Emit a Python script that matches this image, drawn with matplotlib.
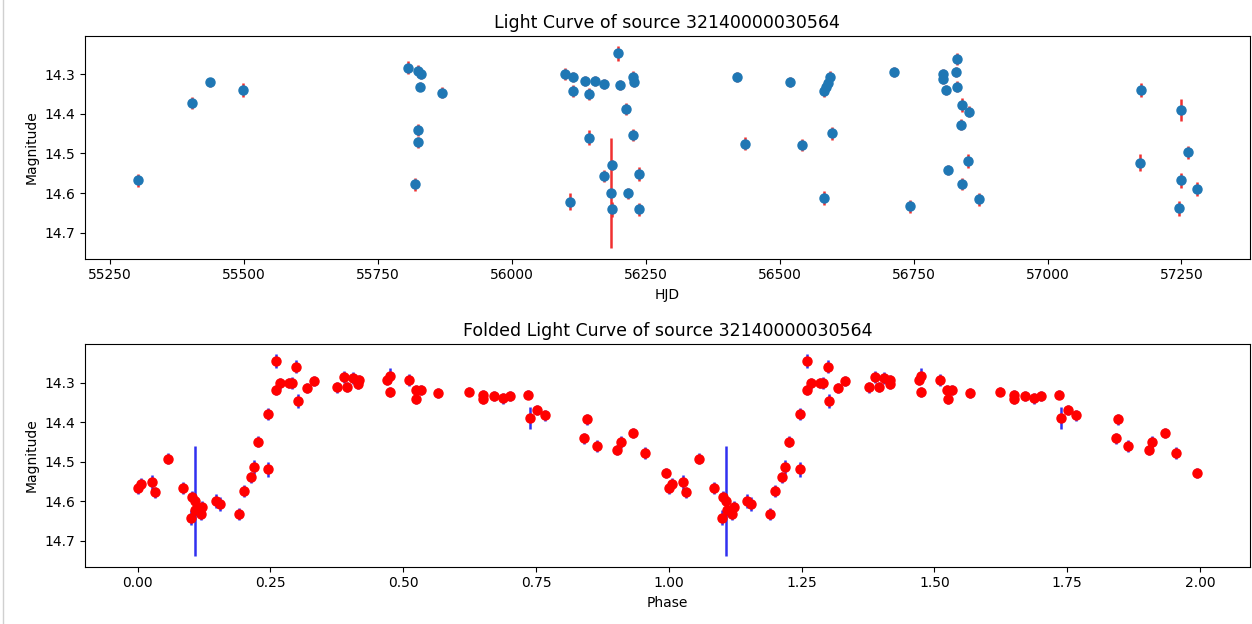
import numpy as np
import matplotlib
matplotlib.use("Agg")
import matplotlib.pyplot as plt
from matplotlib.lines import Line2D

SOURCE_ID = "32140000030564"

# --- raw light curve (HJD, magnitude, error) ---
hjd = [55301.5, 55403.1, 55435.4, 55497.6, 55805.8, 55824.4, 55830.8, 55827.6,
       55869.2, 55824.4, 55824.4, 55819.6, 56099.7, 56113.9, 56113.9, 56135.7,
       56154.4, 56171.8, 56143.8, 56197.4, 56201.1, 56213.6, 56225.9, 56228.5,
       56143.2, 56225.9, 56187.5, 56171.2, 56236.5, 56184.3, 56216.6, 56107.7,
       56187.5, 56236.5, 56420.9, 56434.5, 56519.8, 56541.5, 56593.2, 56590.1,
       56585.8, 56582.0, 56598.3, 56582.0, 56713.3, 56742.6, 56804.8, 56804.8,
       56811.2, 56828.5, 56830.4, 56830.4, 56841.0, 56853.4, 56839.1, 56852.2,
       56814.2, 56841.0, 56871.5, 57174.0, 57173.4, 57249.2, 57263.1, 57249.2,
       57279.1, 57246.2]
mag = [14.568, 14.372, 14.320, 14.339, 14.283, 14.291, 14.299, 14.331,
       14.346, 14.441, 14.472, 14.578, 14.299, 14.306, 14.342, 14.316,
       14.316, 14.325, 14.350, 14.247, 14.327, 14.387, 14.306, 14.320,
       14.460, 14.453, 14.530, 14.556, 14.552, 14.601, 14.601, 14.622,
       14.641, 14.641, 14.306, 14.475, 14.320, 14.479, 14.306, 14.323,
       14.331, 14.342, 14.449, 14.612, 14.294, 14.634, 14.300, 14.312,
       14.340, 14.294, 14.261, 14.331, 14.378, 14.394, 14.427, 14.519,
       14.542, 14.578, 14.616, 14.339, 14.523, 14.390, 14.497, 14.568,
       14.590, 14.638]
mag_err = [0.016, 0.015, 0.011, 0.017, 0.017, 0.015, 0.013, 0.011,
           0.013, 0.015, 0.013, 0.017, 0.015, 0.013, 0.015, 0.013,
           0.013, 0.013, 0.015, 0.018, 0.013, 0.015, 0.015, 0.013,
           0.019, 0.015, 0.013, 0.015, 0.017, 0.139, 0.013, 0.021,
           0.019, 0.017, 0.013, 0.017, 0.013, 0.015, 0.015, 0.013,
           0.013, 0.015, 0.017, 0.018, 0.013, 0.017, 0.013, 0.013,
           0.013, 0.013, 0.015, 0.013, 0.017, 0.013, 0.013, 0.017,
           0.013, 0.015, 0.017, 0.017, 0.021, 0.028, 0.017, 0.019,
           0.017, 0.019]

# --- folded light curve (phase, magnitude, error) ---
phase = [0.000, 0.006, 0.027, 0.033, 0.057, 0.085, 0.102, 0.1075, 0.100, 0.119,
         0.122, 0.109, 0.147, 0.155, 0.190, 0.200, 0.2136, 0.2186, 0.227, 0.246,
         0.246, 0.2606, 0.261, 0.268, 0.285, 0.291, 0.299, 0.3015, 0.318, 0.332,
         0.376, 0.389, 0.395, 0.4056, 0.4157, 0.417, 0.470, 0.475, 0.475, 0.510,
         0.524, 0.533, 0.525, 0.566, 0.624, 0.650, 0.650, 0.670, 0.687, 0.701,
         0.734, 0.738, 0.751, 0.767, 0.846, 0.841, 0.865, 0.903, 0.910, 0.9335,
         0.955, 0.9945]
fold_mag = [14.566, 14.556, 14.552, 14.578, 14.492, 14.567, 14.589, 14.599, 14.642, 14.632,
            14.614, 14.622, 14.600, 14.607, 14.633, 14.575, 14.540, 14.514, 14.449, 14.519,
            14.380, 14.245, 14.319, 14.302, 14.300, 14.300, 14.259, 14.346, 14.313, 14.296,
            14.312, 14.286, 14.310, 14.289, 14.303, 14.293, 14.293, 14.282, 14.323, 14.293,
            14.318, 14.318, 14.342, 14.327, 14.323, 14.331, 14.342, 14.334, 14.340, 14.334,
            14.330, 14.389, 14.370, 14.383, 14.393, 14.441, 14.460, 14.470, 14.451, 14.427,
            14.477, 14.529]
fold_err = [0.015, 0.015, 0.019, 0.013, 0.015, 0.015, 0.015, 0.139, 0.019, 0.015,
            0.015, 0.015, 0.017, 0.017, 0.015, 0.015, 0.013, 0.017, 0.015, 0.019,
            0.015, 0.017, 0.013, 0.013, 0.013, 0.015, 0.017, 0.017, 0.013, 0.013,
            0.013, 0.015, 0.013, 0.015, 0.013, 0.013, 0.013, 0.019, 0.013, 0.015,
            0.013, 0.013, 0.013, 0.013, 0.011, 0.013, 0.013, 0.013, 0.013, 0.013,
            0.011, 0.028, 0.013, 0.013, 0.013, 0.013, 0.015, 0.013, 0.015, 0.013,
            0.015, 0.013]

# show two cycles
phase2 = np.concatenate([phase, np.array(phase) + 1.0])
fold_mag2 = np.concatenate([fold_mag, fold_mag])
fold_err2 = np.concatenate([fold_err, fold_err])

W, H = 1252, 624
fig = plt.figure(figsize=(W / 100, H / 100), dpi=100)

def px_axes(left, top, right, bottom):
    return fig.add_axes([left / W, 1 - bottom / H, (right - left) / W, (bottom - top) / H])

# Top: raw light curve
ax1 = px_axes(84.6, 36, 1250, 258.7)
ax1.errorbar(hjd, mag, yerr=mag_err, fmt="o", color="C0", ecolor="#f03030",
             elinewidth=1.8, markersize=6.5)
ax1.set_xlim(55202, 57378)
ax1.set_ylim(14.766, 14.203)
ax1.set_xlabel("HJD")
ax1.set_ylabel("Magnitude")
ax1.set_title(f"Light Curve of source {SOURCE_ID}", fontsize=12.5)

# Bottom: folded light curve
ax2 = px_axes(84.6, 344, 1250, 566.7)
ax2.errorbar(phase2, fold_mag2, yerr=fold_err2, fmt="o", color="red", ecolor="#3030f0",
             elinewidth=1.8, markersize=6.5)
ax2.set_xlim(-0.0997, 2.094)
ax2.set_ylim(14.766, 14.202)
ax2.set_xlabel("Phase")
ax2.set_ylabel("Magnitude")
ax2.set_title(f"Folded Light Curve of source {SOURCE_ID}", fontsize=12.5)

# notebook output frame on the left
fig.add_artist(Line2D([2.5 / W, 2.5 / W], [0, 1], color="#d0d0d0", lw=1))

fig.savefig("out.png", dpi=100)
